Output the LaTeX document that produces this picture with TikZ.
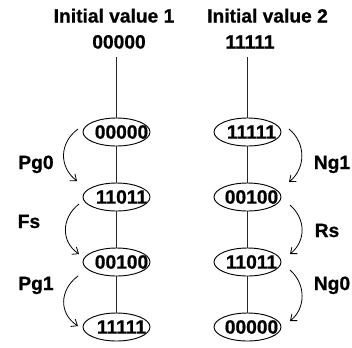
\documentclass[tikz,border=0pt]{standalone}
\usepackage{fontspec}
\setmainfont{Liberation Sans}[BoldFont={Liberation Sans Bold},BoldFeatures={FakeBold=0.8}]
\usetikzlibrary{shapes.geometric,arrows.meta}
\begin{document}
\begin{tikzpicture}[x=0.75pt,y=-0.75pt,
  font=\fontsize{14.4}{17}\selectfont\bfseries,
  hdr/.style={anchor=base, inner sep=0pt},
  st/.style={draw, ellipse, minimum width=50.25pt, minimum height=21pt, inner sep=0pt, line width=0.7pt},
  val/.style={inner sep=0pt},
  ln/.style={line width=0.7pt, draw=black!85},
  arr/.style={line width=0.6pt, -{Straight Barb[length=4pt,width=6.5pt]}},
  lab/.style={anchor=base, inner sep=0pt}]
\useasboundingbox (0,0) rectangle (352,347);
% headers
\node[hdr] (h1) at (114,22.5) {Initial value 1};
\node[hdr] (v1) at (119,48.5) {00000};
\node[hdr] (h2) at (267.5,22.5) {Initial value 2};
\node[hdr] (v2) at (250,48.5) {11111};
\coordinate (s1) at (116.5,57);
\coordinate (s2) at (247.5,57);
% left column
\node[st] (a1) at (116.5,132) {};
\node[st] (a2) at (116.5,197) {};
\node[st] (a3) at (116.5,262) {};
\node[st] (a4) at (116.5,327) {};
\node[val] (ta1) at (121.5,132) {00000};
\node[val] (ta2) at (121.5,197) {11011};
\node[val] (ta3) at (121.5,262) {00100};
\node[val] (ta4) at (121.5,327) {11111};
% right column
\node[st] (b1) at (247.5,132) {};
\node[st] (b2) at (247.5,197) {};
\node[st] (b3) at (247.5,262) {};
\node[st] (b4) at (247.5,327) {};
\node[val] (tb1) at (251.5,132) {11111};
\node[val] (tb2) at (251.5,197) {00100};
\node[val] (tb3) at (251.5,262) {11011};
\node[val] (tb4) at (251.5,327) {00000};
% vertical lines
\draw[ln] (s1) -- (a1);
\draw[ln] (a1) -- (a2);
\draw[ln] (a2) -- (a3);
\draw[ln] (a3) -- (a4);
\draw[ln] (s2) -- (b1);
\draw[ln] (b1) -- (b2);
\draw[ln] (b2) -- (b3);
\draw[ln] (b3) -- (b4);
% left arrows
\coordinate (pa1) at (78,129);  \coordinate (pe1) at (77,181);
\coordinate (pa2) at (79,204);  \coordinate (pe2) at (79,254);
\coordinate (pa3) at (78,276);  \coordinate (pe3) at (78,326);
\draw[arr] (pa1) .. controls (59,143) and (59,167) .. (pe1);
\draw[arr] (pa2) .. controls (61,218) and (61,242) .. (pe2);
\draw[arr] (pa3) .. controls (59,290) and (59,314) .. (pe3);
% right arrows
\coordinate (qa1) at (289,129); \coordinate (qe1) at (289,182);
\coordinate (qa2) at (290,205); \coordinate (qe2) at (290,254);
\coordinate (qa3) at (290,270); \coordinate (qe3) at (290,321);
\draw[arr] (qa1) .. controls (306,143) and (306,168) .. (qe1);
\draw[arr] (qa2) .. controls (306,219) and (306,241) .. (qe2);
\draw[arr] (qa3) .. controls (306,284) and (306,308) .. (qe3);
% labels
\node[lab] (l1) at (36,169) {Pg0};
\node[lab] (l2) at (29,228) {Fs};
\node[lab] (l3) at (36,290) {Pg1};
\node[lab] (r1) at (332,169) {Ng1};
\node[lab] (r2) at (327,237) {Rs};
\node[lab] (r3) at (332,290) {Ng0};
\end{tikzpicture}
\end{document}
